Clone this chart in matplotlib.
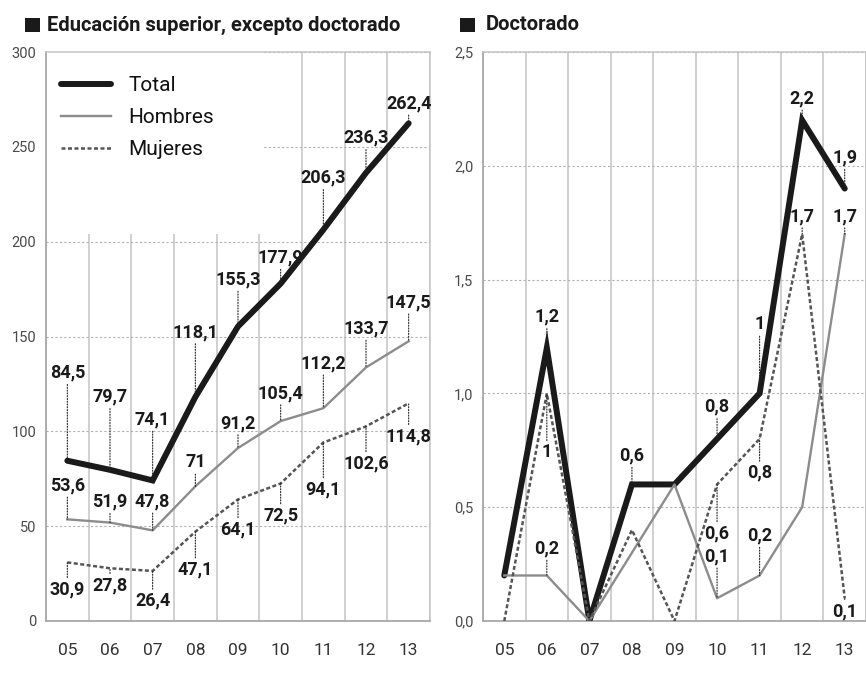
import numpy as np
import matplotlib.pyplot as plt
from matplotlib.patches import Rectangle

plt.rcParams['font.family'] = ['Roboto', 'DejaVu Sans']

years = ['05', '06', '07', '08', '09', '10', '11', '12', '13']

# Educacion superior, excepto doctorado
sup_total = [84.5, 79.7, 74.1, 118.1, 155.3, 177.9, 206.3, 236.3, 262.4]
sup_hombres = [53.6, 51.9, 47.8, 71, 91.2, 105.4, 112.2, 133.7, 147.5]
sup_mujeres = [30.9, 27.8, 26.4, 47.1, 64.1, 72.5, 94.1, 102.6, 114.8]

# Doctorado
doc_total = [0.2, 1.2, 0, 0.6, 0.6, 0.8, 1, 2.2, 1.9]
doc_hombres = [0.2, 0.2, 0, 0.3, 0.6, 0.1, 0.2, 0.5, 1.7]
doc_mujeres = [0, 1, 0, 0.4, 0, 0.6, 0.8, 1.7, 0.1]

# label placement (pixels above/below the point), None = no label
sup_total_lab = [88, 73, 61, 65, 47, 26, 52, 35, 20]
sup_hombres_lab = [34, 21, 29, 24, 25, 28, 45, 39, 39]
sup_mujeres_lab = [-27, -17, -30, -38, -30, -32, -47, -37, -33]
doc_total_lab = [None, 31, None, 29, None, 32, 69, 22, 31]
doc_hombres_lab = [None, 27, None, None, None, 42, 40, None, 18]
doc_mujeres_lab = [None, -59, None, None, None, -49, -34, 18, -13]

W, H = 866, 675
fig = plt.figure(figsize=(W / 100, H / 100), dpi=100)


def px_axes(x0, x1, ytop, ybot):
    return fig.add_axes([x0 / W, 1 - ybot / H, (x1 - x0) / W, (ybot - ytop) / H])


def fmt(v):
    return f"{v:g}".replace('.', ',')


styles = {
    'Total': dict(color='#1a1a1a', lw=4.3, solid_capstyle='round', solid_joinstyle='miter'),
    'Hombres': dict(color='#8c8c8c', lw=1.7),
    'Mujeres': dict(color='#555555', lw=1.8, ls=(0, (1.6, 1.0))),
}


def setup(ax, ymax, step, labels):
    ax.set_xlim(-0.5, 8.5)
    ax.set_ylim(0, ymax)
    ax.set_xticks(range(9))
    ax.set_xticklabels(years)
    yt = np.arange(0, ymax + step / 2, step)
    ax.set_yticks(yt)
    ax.set_yticklabels(labels)
    ax.set_xticks(np.arange(-0.5, 9, 1), minor=True)
    ax.set_axisbelow(True)
    ax.grid(which='minor', axis='x', color='#c4c4c4', lw=1.1)
    ax.grid(which='major', axis='y', color='#b0b0b0', lw=0.8, ls=(0, (2, 2)))
    ax.grid(which='major', axis='x', visible=False)
    ax.tick_params(which='both', length=0)
    ax.tick_params(axis='y', pad=7, labelsize=10.5, labelcolor='#4a4a4a')
    ax.tick_params(axis='x', pad=16, labelsize=12.5, labelcolor='#333333')
    for s in ['left', 'bottom']:
        ax.spines[s].set_color('#a8a8a8')
        ax.spines[s].set_linewidth(1.3)
    for s in ['top', 'right']:
        ax.spines[s].set_color('#c4c4c4')
        ax.spines[s].set_linewidth(1.1)


def draw(ax, series):
    x = np.arange(9)
    for name, vals, labs in series:
        ax.plot(x, vals, zorder=3, label=name, **styles[name])
        for i, (v, off) in enumerate(zip(vals, labs)):
            if off is None:
                continue
            ax.annotate(fmt(v), xy=(i, v), xytext=(0, off), textcoords='offset pixels',
                        ha='center', va='center', fontsize=13, fontweight='bold',
                        color='#1a1a1a', zorder=5, annotation_clip=False,
                        arrowprops=dict(arrowstyle='-', color='#222222', lw=0.8,
                                        linestyle=(0, (1, 1.5)), shrinkA=0, shrinkB=0))


# left panel
ax1 = px_axes(46, 430, 52, 621)
setup(ax1, 300, 50, ['0', '50', '100', '150', '200', '250', '300'])
ax1.add_patch(Rectangle((0, 0.68), 0.565, 0.32, transform=ax1.transAxes,
                        facecolor='white', edgecolor='none', zorder=1))
draw(ax1, [('Total', sup_total, sup_total_lab),
           ('Hombres', sup_hombres, sup_hombres_lab),
           ('Mujeres', sup_mujeres, sup_mujeres_lab)])
leg = ax1.legend(loc='upper left', bbox_to_anchor=(0.04, 0.957), frameon=False,
                 fontsize=15, handlelength=2.4, handletextpad=0.8,
                 labelspacing=0.62, borderaxespad=0, borderpad=0)
for t in leg.get_texts():
    t.set_color('#111111')

# right panel
ax2 = px_axes(483, 866, 52, 621)
setup(ax2, 2.5, 0.5, ['0,0', '0,5', '1,0', '1,5', '2,0', '2,5'])
draw(ax2, [('Total', doc_total, doc_total_lab),
           ('Hombres', doc_hombres, doc_hombres_lab),
           ('Mujeres', doc_mujeres, doc_mujeres_lab)])

# titles with square markers
for sx, tx, title in [(25, 47, 'Educación superior, excepto doctorado'),
                      (460, 486, 'Doctorado')]:
    fig.patches.append(Rectangle((sx / W, 1 - 32 / H), 15 / W, 14 / H,
                                 transform=fig.transFigure, facecolor='#1a1a1a',
                                 edgecolor='none'))
    fig.text(tx / W, 1 - 25 / H, title, ha='left', va='center',
             fontsize=14.5, fontweight='bold', color='#1a1a1a')

fig.savefig('out.png', dpi=100)
